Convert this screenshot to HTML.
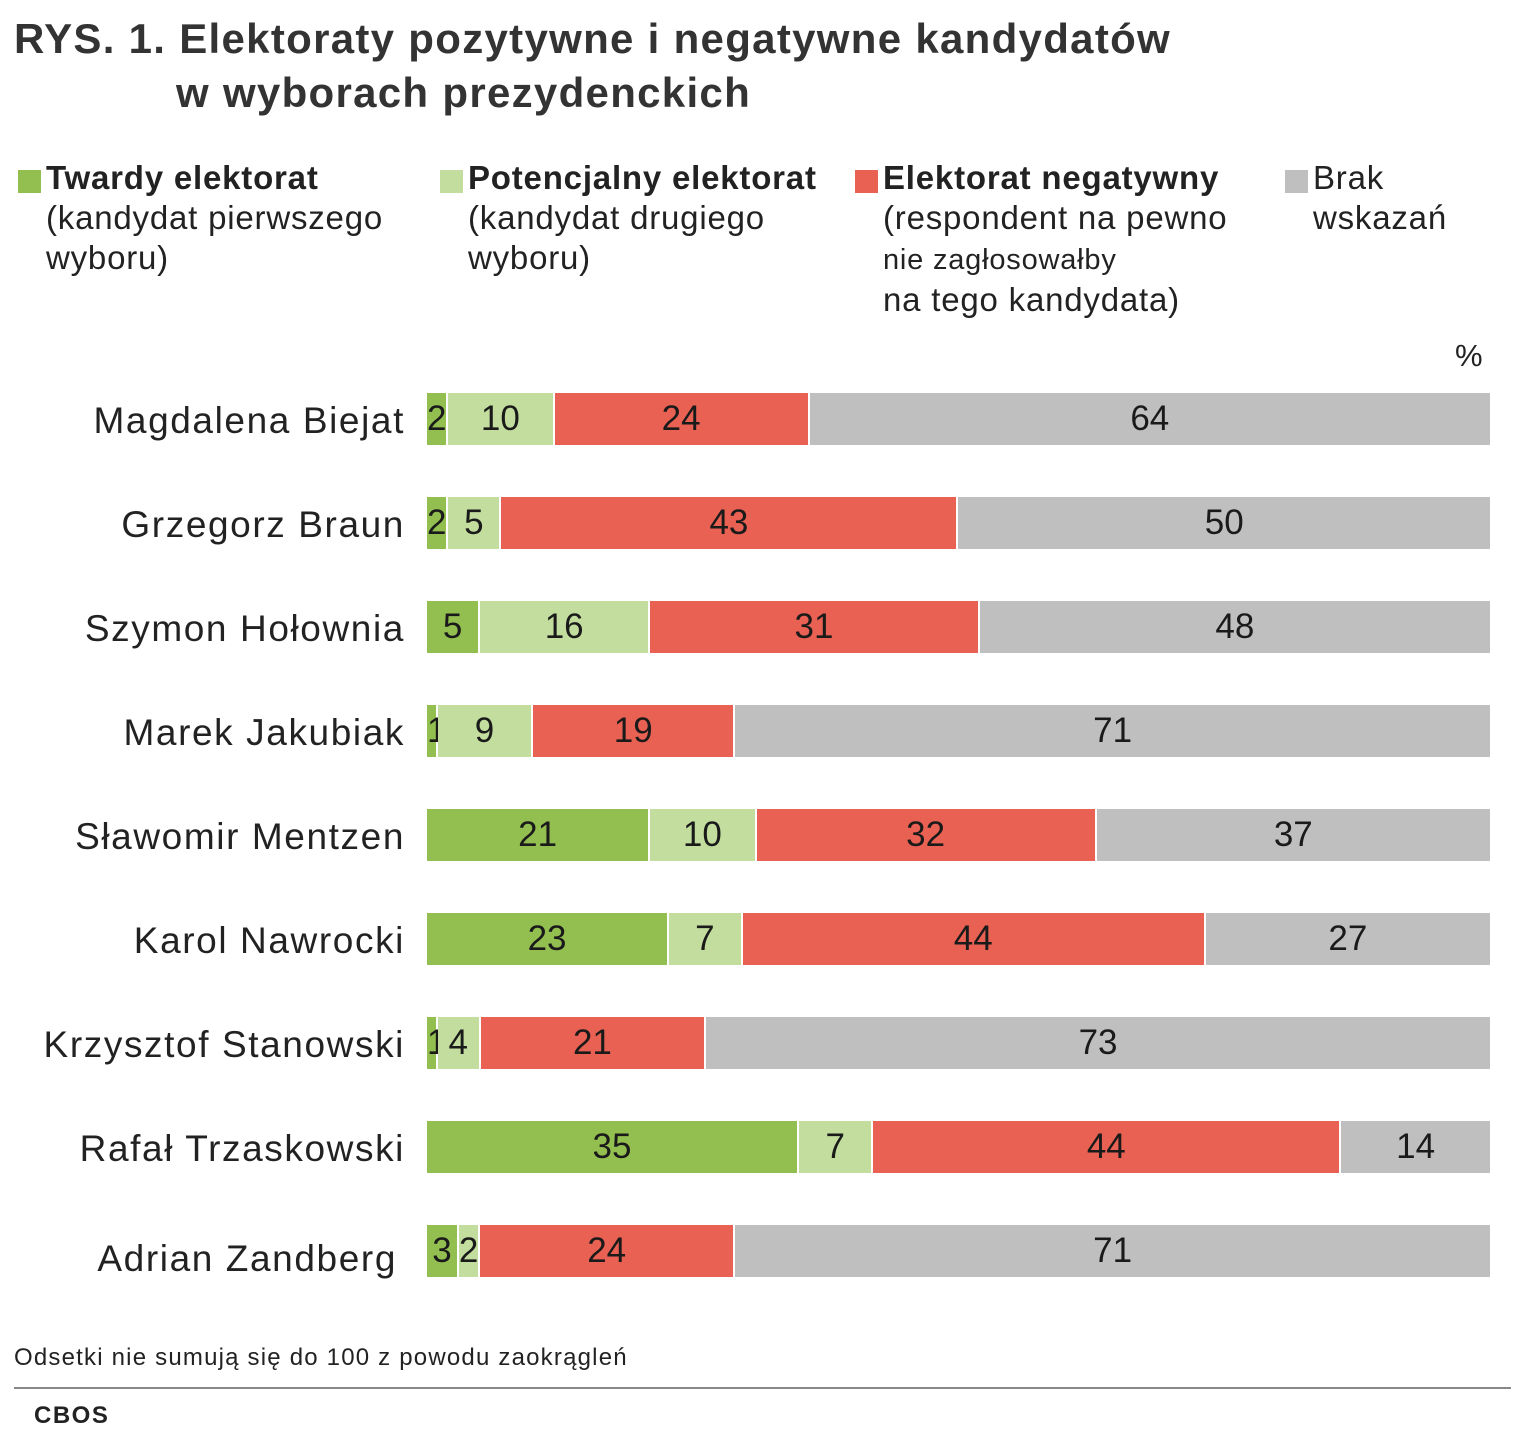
<!DOCTYPE html>
<html><head><meta charset="utf-8"><style>
body{margin:0;width:1527px;height:1440px;background:#fff;font-family:"Liberation Sans",sans-serif;color:#222;position:relative;overflow:hidden}
.t{position:absolute;left:14px;top:12px;font-size:42px;font-weight:bold;color:#333;line-height:54px;letter-spacing:1.3px}
.lg{position:absolute;top:158px;font-size:33px;line-height:40px;color:#222;letter-spacing:0.8px}
.lg b{font-weight:bold}
.sq{position:absolute;left:-28px;top:12px;width:23px;height:23px}
.row{position:absolute;left:0;width:1527px;height:52px}
.nm{position:absolute;right:1122px;top:2px;font-size:37px;line-height:52px;white-space:nowrap;letter-spacing:1.6px}
.bar{position:absolute;left:427px;width:1063px;height:52px;display:flex;top:0}
.bar div{height:52px;font-size:35px;line-height:52px;text-align:center;box-sizing:border-box;border-right:2px solid #fff;overflow:visible;white-space:nowrap;color:#1a1a1a}
.bar div:last-child{border-right:none}
.g{background:#93bf50}.l{background:#c2dd9d}.r{background:#e86152}.y{background:#bfbfbf}
</style></head><body>
<div class="t">RYS. 1. Elektoraty pozytywne i negatywne kandydatów<br><span style="padding-left:162px">w wyborach prezydenckich</span></div>
<div class="lg" style="left:46px"><div class="sq g"></div><b>Twardy elektorat</b><br>(kandydat pierwszego<br>wyboru)</div>
<div class="lg" style="left:468px"><div class="sq l"></div><b>Potencjalny elektorat</b><br>(kandydat drugiego<br>wyboru)</div>
<div class="lg" style="left:883px"><div class="sq r"></div><b>Elektorat negatywny</b><br>(respondent na pewno<br><span style="font-size:29px">nie zagłosowałby</span><br>na tego kandydata)</div>
<div class="lg" style="left:1313px"><div class="sq y"></div>Brak<br>wskazań</div>
<div style="position:absolute;left:1455px;top:338px;font-size:31px">%</div>
<div id="rows"></div>
<div style="position:absolute;left:14px;top:1344px;font-size:24px;letter-spacing:1.2px">Odsetki nie sumują się do 100 z powodu zaokrągleń</div>
<div style="position:absolute;left:14px;top:1387px;width:1497px;height:2px;background:#888"></div>
<div style="position:absolute;left:34px;top:1402px;font-size:24px;font-weight:bold;letter-spacing:1.5px">CBOS</div>
<script>
var d=[["Magdalena Biejat",2,10,24,64],["Grzegorz Braun",2,5,43,50],["Szymon Hołownia",5,16,31,48],["Marek Jakubiak",1,9,19,71],["Sławomir Mentzen",21,10,32,37],["Karol Nawrocki",23,7,44,27],["Krzysztof Stanowski",1,4,21,73],["Rafał Trzaskowski",35,7,44,14],["Adrian Zandberg",3,2,24,71]];
var h="";d.forEach(function(r,i){var top=393+i*104;var c=["g","l","r","y"];var s=r[1]+r[2]+r[3]+r[4];
h+='<div class="row" style="top:'+top+'px"><div class="nm"'+(i==8?' style="right:1130px;top:8px"':'')+'>'+r[0]+'</div><div class="bar">';
for(var k=0;k<4;k++){h+='<div class="'+c[k]+'" style="width:'+(1063*r[k+1]/s)+'px">'+r[k+1]+'</div>';}
h+='</div></div>';});
document.getElementById("rows").innerHTML=h;
</script>
</body></html>
